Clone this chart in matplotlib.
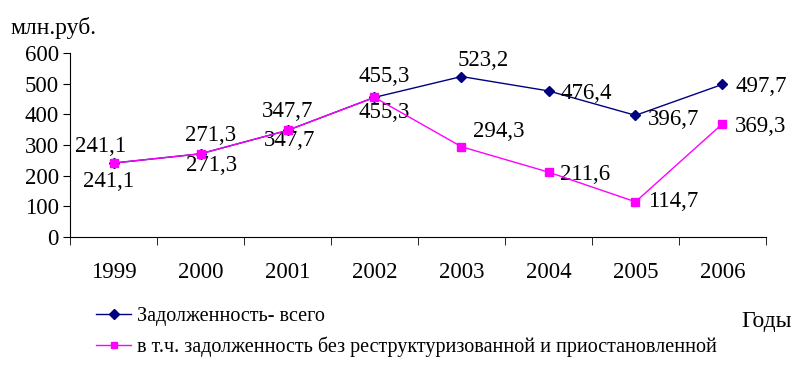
import matplotlib.pyplot as plt
import numpy as np

plt.rcParams['font.family'] = ['Liberation Serif', 'DejaVu Serif']

years = ['1999', '2000', '2001', '2002', '2003', '2004', '2005', '2006']
total = [241.1, 271.3, 347.7, 455.3, 523.2, 476.4, 396.7, 497.7]
net = [241.1, 271.3, 347.7, 455.3, 294.3, 211.6, 114.7, 369.3]
name_total = 'Задолженность- всего'
name_net = 'в т.ч. задолженность без реструктуризованной и приостановленной'

# label offsets in pixels (dx, dy)
off_total = [(-13, 17), (10, 18), (0, 19), (10, 21), (22, 16), (38, -3), (38, -4), (39, -2)]
off_net = [(-5, -18), (11, -12), (2, -10), (10, -15), (37, 15), (37, -2), (38, 0), (38, -3)]

navy = '#000080'
pink = '#FF00FF'

fig = plt.figure(figsize=(8.04, 3.68), dpi=100)
ax = fig.add_axes([70/804, 1-237/368, 696/804, 184/368])

x = np.arange(len(years))
l1, = ax.plot(x, total, color=navy, lw=1, marker='D', ms=5.5, zorder=3)
l2, = ax.plot(x, net, color=pink, lw=1, marker='s', ms=5.5, zorder=4)

def fmt(v):
    return f'{v:.1f}'.replace('.', ',')

fs = 16.5
for i in range(len(years)):
    ax.annotate(fmt(total[i]), (x[i], total[i]), xytext=off_total[i],
                textcoords='offset pixels', ha='center', va='center', fontsize=fs)
    ax.annotate(fmt(net[i]), (x[i], net[i]), xytext=off_net[i],
                textcoords='offset pixels', ha='center', va='center', fontsize=fs)

ax.set_xlim(-0.5, len(years) - 0.5)
ax.set_ylim(0, 600)
ax.set_yticks(range(0, 601, 100))
ax.set_xticks(x)
ax.set_xticklabels(years)
ax.set_xticks(np.arange(-0.5, len(years), 1), minor=True)
ax.tick_params(axis='x', which='major', length=0, pad=18, labelsize=fs)
ax.tick_params(axis='x', which='minor', length=6, direction='out')
ax.tick_params(axis='y', length=5, direction='out', labelsize=fs, pad=3)
for s in ['top', 'right']:
    ax.spines[s].set_visible(False)

fig.text(10/804, 1-28/368, 'млн.руб.', fontsize=17, va='center', ha='left')
fig.text(792/804, 1-322/368, 'Годы', fontsize=17, va='center', ha='right')

fig.legend([l1, l2], [name_total, name_net], loc='upper left',
           bbox_to_anchor=(88/804, 1-299/368), frameon=False, fontsize=14.5,
           handlelength=1.75, labelspacing=0.5, handletextpad=0.3, borderaxespad=0,
           markerscale=0.9)

fig.savefig('out.png', dpi=100)
